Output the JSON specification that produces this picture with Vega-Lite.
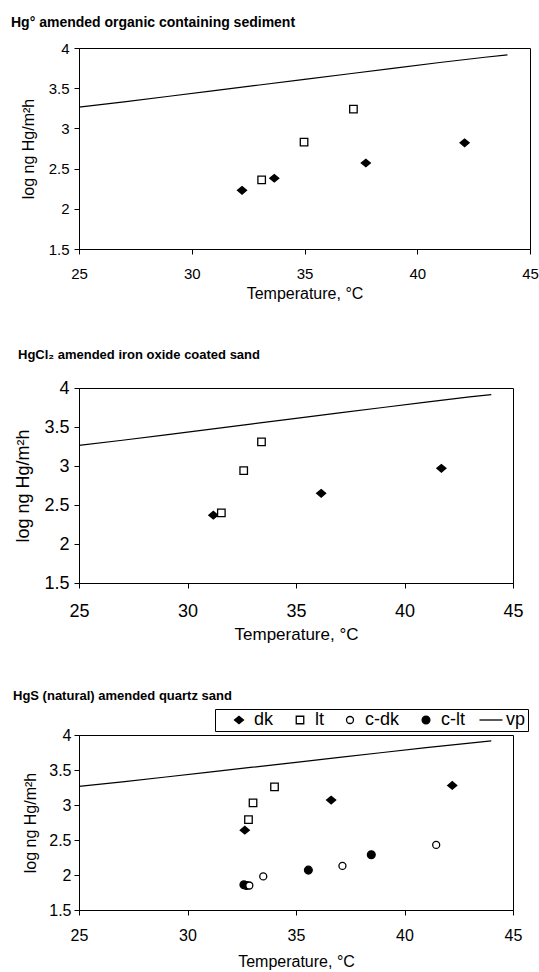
{
  "$schema": "https://vega.github.io/schema/vega-lite/v6.json",
  "padding": {"left": 10, "top": 15, "right": 0, "bottom": 0},
  "background": "white",
  "spacing": 46,
  "columns": 1,
  "align": "none",
  "config": {
    "font": "Liberation Sans",
    "view": {"stroke": "black", "strokeWidth": 1},
    "axis": {"domainColor": "black", "tickColor": "black", "labelColor": "black", "titleColor": "black", "grid": false, "tickSize": 5, "titleFontWeight": "normal", "labelFont": "Liberation Sans", "titleFont": "Liberation Sans", "labelFlush": false, "labelOverlap": false},
    "title": {"color": "black", "anchor": "start", "frame": "group", "fontWeight": "bold", "font": "Liberation Sans"},
    "legend": {"labelFont": "Liberation Sans"}
  },
  "datasets": {
    "vp": [
      {"t": 25, "v": 3.265}, {"t": 27, "v": 3.33}, {"t": 29, "v": 3.40}, {"t": 31, "v": 3.47},
      {"t": 33, "v": 3.54}, {"t": 35, "v": 3.61}, {"t": 37, "v": 3.68}, {"t": 39, "v": 3.75},
      {"t": 41, "v": 3.82}, {"t": 43, "v": 3.885}, {"t": 44, "v": 3.915}
    ],
    "p1": [
      {"series": "dk", "t": 32.23, "v": 2.23}, {"series": "dk", "t": 33.66, "v": 2.38},
      {"series": "dk", "t": 37.72, "v": 2.57}, {"series": "dk", "t": 42.1, "v": 2.82},
      {"series": "lt", "t": 33.1, "v": 2.36}, {"series": "lt", "t": 34.98, "v": 2.83},
      {"series": "lt", "t": 37.17, "v": 3.24}
    ],
    "p2": [
      {"series": "dk", "t": 31.19, "v": 2.37}, {"series": "dk", "t": 36.16, "v": 2.65},
      {"series": "dk", "t": 41.7, "v": 2.97},
      {"series": "lt", "t": 31.56, "v": 2.40}, {"series": "lt", "t": 32.59, "v": 2.94},
      {"series": "lt", "t": 33.41, "v": 3.31}
    ],
    "p3": [
      {"series": "dk", "t": 32.64, "v": 2.64}, {"series": "dk", "t": 36.62, "v": 3.07},
      {"series": "dk", "t": 42.2, "v": 3.28},
      {"series": "lt", "t": 32.81, "v": 2.79}, {"series": "lt", "t": 33.02, "v": 3.03},
      {"series": "lt", "t": 34.01, "v": 3.26},
      {"series": "c-lt", "t": 32.6, "v": 1.86}, {"series": "c-lt", "t": 32.72, "v": 1.85},
      {"series": "c-lt", "t": 35.57, "v": 2.07}, {"series": "c-lt", "t": 38.47, "v": 2.29},
      {"series": "c-dk", "t": 32.85, "v": 1.85}, {"series": "c-dk", "t": 33.49, "v": 1.98},
      {"series": "c-dk", "t": 37.14, "v": 2.13}, {"series": "c-dk", "t": 41.46, "v": 2.43}
    ]
  },
  "resolve": {"scale": {"shape": "independent", "fill": "independent", "stroke": "independent"}, "legend": {"shape": "independent", "fill": "independent", "stroke": "independent"}},
  "concat": [
    {
      "width": 451, "height": 201,
      "title": {"text": "Hg° amended organic containing sediment", "fontSize": 14, "dx": -68, "offset": 11},
      "encoding": {
        "x": {"field": "t", "type": "quantitative", "scale": {"domain": [25, 45], "nice": false, "zero": false},
              "axis": {"values": [25, 30, 35, 40, 45], "title": "Temperature, °C", "labelFontSize": 15, "titleFontSize": 16, "labelPadding": 12, "titlePadding": 4}},
        "y": {"field": "v", "type": "quantitative", "scale": {"domain": [1.5, 4], "nice": false, "zero": false},
              "axis": {"values": [1.5, 2, 2.5, 3, 3.5, 4], "format": "~g", "title": "log ng Hg/m²h", "labelFontSize": 15, "titleFontSize": 16, "labelPadding": 5, "titlePadding": 12}}
      },
      "layer": [
        {"data": {"name": "vp"}, "mark": {"type": "line", "color": "black", "strokeWidth": 1.2}},
        {"data": {"name": "p1"}, "mark": {"type": "point", "filled": true, "size": 100, "stroke": "black", "strokeWidth": 1.3, "opacity": 1},
         "encoding": {
           "shape": {"field": "series", "type": "nominal", "legend": null, "scale": {"domain": ["dk", "lt", "c-dk", "c-lt", "vp"], "range": ["M-0.9,0L0,-0.75L0.9,0L0,0.75Z", "M-0.75,-0.75L0.75,-0.75L0.75,0.75L-0.75,0.75Z", "M-0.7,0A0.7,0.7,0,1,1,0.7,0A0.7,0.7,0,1,1,-0.7,0Z", "M-0.78,0A0.78,0.78,0,1,1,0.78,0A0.78,0.78,0,1,1,-0.78,0Z", "M-2.3,0L2.3,0"]}},
           "fill": {"field": "series", "type": "nominal", "legend": null, "scale": {"domain": ["dk", "lt", "c-dk", "c-lt", "vp"], "range": ["black", "white", "white", "black", "transparent"]}}
         }}
      ]
    },
    {
      "width": 434, "height": 195,
      "title": {"text": "HgCl₂ amended iron oxide coated sand", "fontSize": 13, "dx": -61, "offset": 17},
      "encoding": {
        "x": {"field": "t", "type": "quantitative", "scale": {"domain": [25, 45], "nice": false, "zero": false},
              "axis": {"values": [25, 30, 35, 40, 45], "title": "Temperature, °C", "labelFontSize": 18, "titleFontSize": 17, "labelPadding": 14, "titlePadding": 6}},
        "y": {"field": "v", "type": "quantitative", "scale": {"domain": [1.5, 4], "nice": false, "zero": false},
              "axis": {"values": [1.5, 2, 2.5, 3, 3.5, 4], "format": "~g", "title": "log ng Hg/m²h", "labelFontSize": 18, "titleFontSize": 18, "labelPadding": 5, "titlePadding": 11}}
      },
      "layer": [
        {"data": {"name": "vp"}, "mark": {"type": "line", "color": "black", "strokeWidth": 1.2}},
        {"data": {"name": "p2"}, "mark": {"type": "point", "filled": true, "size": 100, "stroke": "black", "strokeWidth": 1.3, "opacity": 1},
         "encoding": {
           "shape": {"field": "series", "type": "nominal", "legend": null, "scale": {"domain": ["dk", "lt", "c-dk", "c-lt", "vp"], "range": ["M-0.9,0L0,-0.75L0.9,0L0,0.75Z", "M-0.75,-0.75L0.75,-0.75L0.75,0.75L-0.75,0.75Z", "M-0.7,0A0.7,0.7,0,1,1,0.7,0A0.7,0.7,0,1,1,-0.7,0Z", "M-0.78,0A0.78,0.78,0,1,1,0.78,0A0.78,0.78,0,1,1,-0.78,0Z", "M-2.3,0L2.3,0"]}},
           "fill": {"field": "series", "type": "nominal", "legend": null, "scale": {"domain": ["dk", "lt", "c-dk", "c-lt", "vp"], "range": ["black", "white", "white", "black", "transparent"]}}
         }}
      ]
    },
    {
      "width": 434, "height": 175,
      "title": {"text": "HgS (natural) amended quartz sand", "fontSize": 13, "dx": -66, "offset": 6},
      "encoding": {
        "x": {"field": "t", "type": "quantitative", "scale": {"domain": [25, 45], "nice": false, "zero": false},
              "axis": {"values": [25, 30, 35, 40, 45], "title": "Temperature, °C", "labelFontSize": 16, "titleFontSize": 16, "labelPadding": 12, "titlePadding": 10}},
        "y": {"field": "v", "type": "quantitative", "scale": {"domain": [1.5, 4], "nice": false, "zero": false},
              "axis": {"values": [1.5, 2, 2.5, 3, 3.5, 4], "format": "~g", "title": "log ng Hg/m²h", "labelFontSize": 16, "titleFontSize": 16, "labelPadding": 3, "titlePadding": 10}}
      },
      "layer": [
        {"data": {"name": "vp"}, "mark": {"type": "line", "color": "black", "strokeWidth": 1.2}},
        {"data": {"name": "p3"}, "mark": {"type": "point", "filled": true, "size": 100, "strokeWidth": 1.3, "opacity": 1},
         "encoding": {
           "shape": {"field": "series", "type": "nominal",
                     "scale": {"domain": ["dk", "lt", "c-dk", "c-lt", "vp"], "range": ["M-0.9,0L0,-0.75L0.9,0L0,0.75Z", "M-0.75,-0.75L0.75,-0.75L0.75,0.75L-0.75,0.75Z", "M-0.7,0A0.7,0.7,0,1,1,0.7,0A0.7,0.7,0,1,1,-0.7,0Z", "M-0.78,0A0.78,0.78,0,1,1,0.78,0A0.78,0.78,0,1,1,-0.78,0Z", "M-2.3,0L2.3,0"]},
                     "legend": {"orient": "none", "legendX": 136, "legendY": -26, "direction": "horizontal", "title": null, "labelFontSize": 18, "labelColor": "black", "symbolSize": 100, "symbolStrokeWidth": 1.3, "strokeColor": "black", "padding": 2, "symbolOffset": 13, "labelOffset": 6, "columnPadding": 4, "labelExpr": "datum.label === 'vp' ? 'vp  ' : datum.label"}},
           "fill": {"field": "series", "type": "nominal",
                    "scale": {"domain": ["dk", "lt", "c-dk", "c-lt", "vp"], "range": ["black", "white", "white", "black", "transparent"]},
                    "legend": {"orient": "none", "legendX": 136, "legendY": -26, "direction": "horizontal", "title": null, "labelFontSize": 18, "labelColor": "black", "symbolSize": 100, "symbolStrokeWidth": 1.3, "strokeColor": "black", "padding": 2, "symbolOffset": 13, "labelOffset": 6, "columnPadding": 4, "labelExpr": "datum.label === 'vp' ? 'vp  ' : datum.label"}},
           "stroke": {"field": "series", "type": "nominal",
                    "scale": {"domain": ["dk", "lt", "c-dk", "c-lt", "vp"], "range": ["black", "black", "black", "black", "black"]},
                    "legend": {"orient": "none", "legendX": 136, "legendY": -26, "direction": "horizontal", "title": null, "labelFontSize": 18, "labelColor": "black", "symbolSize": 100, "symbolStrokeWidth": 1.3, "strokeColor": "black", "padding": 2, "symbolOffset": 13, "labelOffset": 6, "columnPadding": 4, "labelExpr": "datum.label === 'vp' ? 'vp  ' : datum.label"}}
         }}
      ]
    }
  ]
}
